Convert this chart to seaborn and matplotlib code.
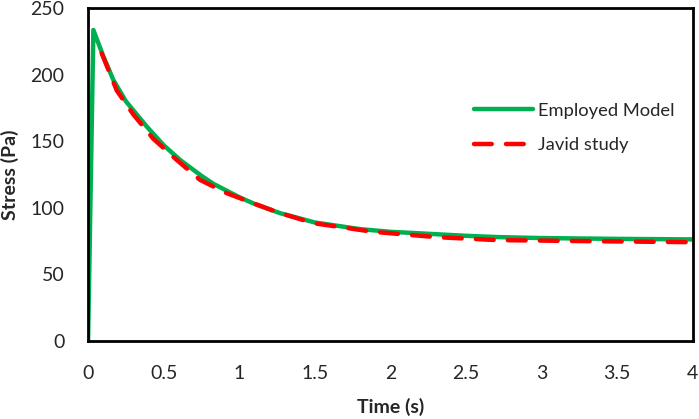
import matplotlib
matplotlib.use("Agg")
import matplotlib.pyplot as plt
import seaborn as sns
import pandas as pd

# values
model_time = [0, 0.035, 0.1, 0.167, 0.25, 0.388, 0.5, 0.608, 0.75, 0.829, 1.0,
              1.1, 1.27, 1.5, 1.62, 1.8, 2.0, 2.17, 2.5, 2.72, 3.0, 3.5, 4.0]
model_stress = [0, 233.5, 214, 196, 180, 161, 147, 136, 124, 118, 108,
                103, 96, 89, 87, 84, 82, 81, 79, 78, 77.3, 76.7, 76.3]

javid_time = [0.09, 0.19, 0.30, 0.43, 0.586, 0.74, 0.917, 1.115, 1.258, 1.49,
              1.886, 2.305, 2.70, 3.3, 3.91, 4.0]
javid_stress = [216, 188, 170, 152, 136, 121, 111, 102.5, 96.5, 88.5,
                82, 78, 75.8, 75, 74.3, 74.2]

x_ticks = [0, 0.5, 1, 1.5, 2, 2.5, 3, 3.5, 4]
x_labels = ["0", "0.5", "1", "1.5", "2", "2.5", "3", "3.5", "4"]
y_ticks = [0, 50, 100, 150, 200, 250]

sns.set_style("white")
plt.rcParams["font.family"] = ["Lato", "DejaVu Sans"]

model_df = pd.DataFrame({"Time": model_time, "Stress": model_stress})
javid_df = pd.DataFrame({"Time": javid_time, "Stress": javid_stress})

fig = plt.figure(figsize=(6.99, 4.19), dpi=100)
ax = fig.add_axes([0.126, 0.186, 0.865, 0.795])

sns.lineplot(data=model_df, x="Time", y="Stress", ax=ax, sort=False,
             color="#00B050", linewidth=3.2, label="Employed Model")
sns.lineplot(data=javid_df, x="Time", y="Stress", ax=ax, sort=False,
             color="#FF0000", linewidth=3.2, label="Javid study",
             dashes=False)
ax.lines[1].set_dashes([4, 3.2])
ax.lines[1].set_dash_capstyle("round")

ax.set_xlim(0, 4)
ax.set_ylim(0, 250)
ax.set_xticks(x_ticks)
ax.set_xticklabels(x_labels)
ax.set_yticks(y_ticks)
ax.tick_params(axis="both", length=0, labelsize=14, pad=17)

ax.set_xlabel("Time (s)", fontsize=14, fontweight="bold", labelpad=12)
ax.set_ylabel("Stress (Pa)", fontsize=14, fontweight="bold", labelpad=8)

for side in ["left", "right", "top", "bottom"]:
    ax.spines[side].set_visible(True)
    ax.spines[side].set_color("black")
    ax.spines[side].set_linewidth(2)

leg = ax.legend(loc="center left", bbox_to_anchor=(0.611, 0.64), frameon=False,
                fontsize=13.2, handlelength=3.2, labelspacing=1.0,
                handletextpad=0.3)
for line in leg.get_lines():
    line.set_linewidth(3.2)

fig.savefig("out.png", dpi=100)
